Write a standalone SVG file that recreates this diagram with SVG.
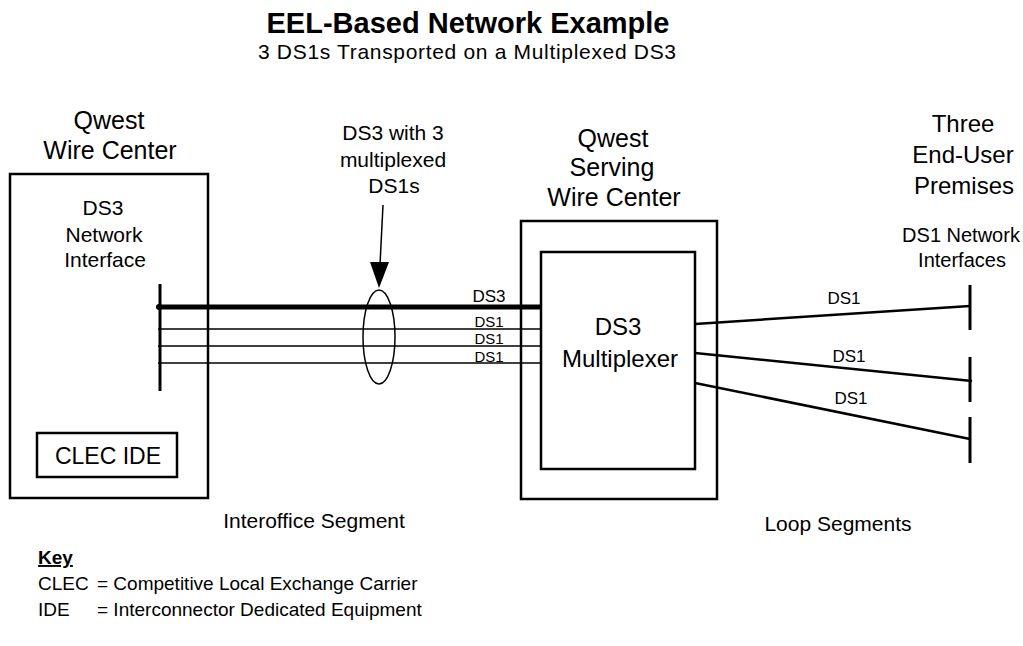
<svg xmlns="http://www.w3.org/2000/svg" width="1023" height="646" viewBox="0 0 1023 646">
<style>
text{font-family:"Liberation Sans",Arial,sans-serif;fill:#000}
.c{text-anchor:middle}
.f25{font-size:25px}
.f24{font-size:24px}
.f22{font-size:22px}
.f21{font-size:21px}
.f20{font-size:20px}
.f19{font-size:19px}
.f17{font-size:17px}
.f15{font-size:15px}
.box{fill:none;stroke:#000;stroke-width:2.5}
.ln{stroke:#000;fill:none}
</style>
<rect width="1023" height="646" fill="#fff"/>
<g id="title">
<text x="468" y="33" class="c" font-size="29" font-weight="bold">EEL-Based Network Example</text>
<text x="467" y="59" class="c f21" textLength="418" lengthAdjust="spacing">3 DS1s Transported on a Multiplexed DS3</text>
</g>
<g id="qwest-wire-center">
<text x="109" y="129" class="c f25">Qwest</text>
<text x="110" y="159" class="c f25">Wire Center</text>
<rect class="box" x="10" y="174" width="198" height="324"/>
<text x="103" y="215" class="c f21">DS3</text>
<text x="104" y="242" class="c f21">Network</text>
<text x="105" y="267" class="c f21">Interface</text>
<line class="ln" x1="160" y1="284" x2="160" y2="391" stroke-width="3"/>
</g>
<g id="clec-ide">
<rect class="box" x="37" y="433" width="140" height="44"/>
<text x="108" y="464" class="c" font-size="23">CLEC IDE</text>
</g>
<g id="serving-wire-center">
<text x="613" y="147" class="c f25">Qwest</text>
<text x="612" y="176" class="c f25">Serving</text>
<text x="614" y="206" class="c f25">Wire Center</text>
<rect class="box" x="521" y="221" width="196" height="278"/>
</g>
<g id="ds3-multiplexer">
<rect class="box" x="541" y="252" width="154" height="217"/>
<text x="618" y="335" class="c f24">DS3</text>
<text x="620" y="367" class="c f24">Multiplexer</text>
</g>
<g id="end-user-premises">
<text x="963" y="132" class="c f24">Three</text>
<text x="963" y="163" class="c f24">End-User</text>
<text x="964" y="194" class="c f24">Premises</text>
<text x="961" y="242" class="c f20">DS1 Network</text>
<text x="962" y="267" class="c f20">Interfaces</text>
<line class="ln" x1="970" y1="285" x2="970" y2="330" stroke-width="3"/>
<line class="ln" x1="970" y1="357" x2="970" y2="402" stroke-width="3"/>
<line class="ln" x1="970" y1="417" x2="970" y2="463" stroke-width="3"/>
</g>
<g id="connectors">
<line class="ln" x1="158" y1="307" x2="541" y2="307" stroke-width="5"/>
<circle cx="159" cy="307" r="3" fill="#000"/>
<line class="ln" x1="158" y1="329" x2="541" y2="329" stroke-width="1.5"/>
<line class="ln" x1="158" y1="346" x2="541" y2="346" stroke-width="1.5"/>
<line class="ln" x1="158" y1="363" x2="541" y2="363" stroke-width="1.5"/>
<ellipse cx="379" cy="337" rx="16" ry="47" fill="none" stroke="#000" stroke-width="1.5"/>
<line class="ln" x1="383" y1="205" x2="380" y2="265" stroke-width="1.5"/>
<polygon points="370,262 389,262 379,288" fill="#000"/>
<line class="ln" x1="695" y1="324" x2="970" y2="306" stroke-width="2.5"/>
<line class="ln" x1="695" y1="353" x2="972" y2="381" stroke-width="2.5"/>
<line class="ln" x1="695" y1="383" x2="970" y2="439" stroke-width="2.5"/>
</g>
<g id="connector-labels">
<text x="393" y="140" class="c f21">DS3 with 3</text>
<text x="393" y="167" class="c f21">multiplexed</text>
<text x="394" y="193" class="c f21">DS1s</text>
<text x="489" y="302" class="c f17">DS3</text>
<text x="489" y="327" class="c f15">DS1</text>
<text x="489" y="344" class="c f15">DS1</text>
<text x="489" y="362" class="c f15">DS1</text>
<text x="844" y="304" class="c f17">DS1</text>
<text x="849" y="362" class="c f17">DS1</text>
<text x="851" y="404" class="c f17">DS1</text>
</g>
<g id="segments">
<text x="314" y="528" class="c f21">Interoffice Segment</text>
<text x="838" y="531" class="c f21">Loop Segments</text>
</g>
<g id="key">
<text x="38" y="564" font-size="19" font-weight="bold" text-decoration="underline">Key</text>
<text x="38" y="590" class="f19">CLEC</text>
<text x="97" y="590" class="f19">= Competitive Local Exchange Carrier</text>
<text x="38" y="616" class="f19">IDE</text>
<text x="97" y="616" class="f19">= Interconnector Dedicated Equipment</text>
</g>
</svg>
